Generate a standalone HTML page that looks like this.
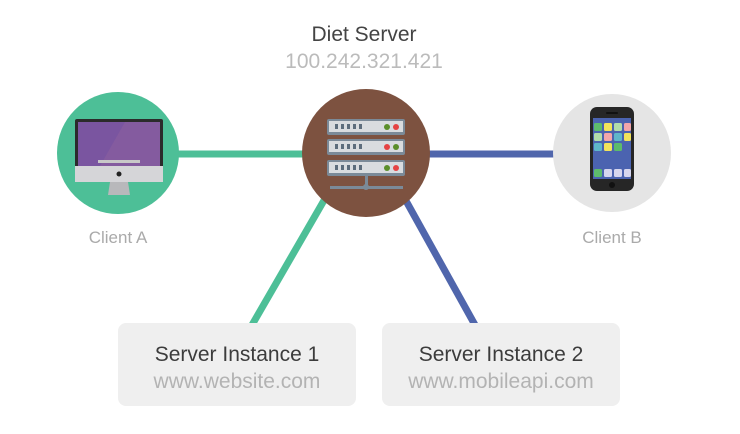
<!DOCTYPE html>
<html><head><meta charset="utf-8"><style>
html,body{margin:0;padding:0;background:#fff;width:740px;height:434px;overflow:hidden}
svg{display:block;font-family:"Liberation Sans",sans-serif}
</style></head><body>
<svg width="740" height="434" viewBox="0 0 740 434">
<line x1="170" y1="154" x2="320" y2="154" stroke="#4dbf97" stroke-width="7"/>
<line x1="410" y1="154" x2="560" y2="154" stroke="#5066ac" stroke-width="7"/>
<line x1="330" y1="190" x2="252" y2="325" stroke="#4dbf97" stroke-width="7"/>
<line x1="400" y1="190" x2="475" y2="325" stroke="#5066ac" stroke-width="7"/>
<text x="364" y="41" font-size="21" fill="#444" text-anchor="middle">Diet Server</text>
<text x="364" y="68" font-size="21" fill="#bbb" text-anchor="middle">100.242.321.421</text>
<circle cx="118" cy="153" r="61" fill="#4dbf97"/>
<rect x="75" y="119" width="88" height="63" rx="2" fill="#2b2b2b"/>
<rect x="78" y="122" width="82" height="44" fill="#7a55a0"/>
<polygon points="125,122 160,122 160,166 100,166" fill="#8a5f9f" opacity="0.6"/>
<rect x="75" y="166" width="88" height="16" fill="#d5d5d8"/>
<circle cx="119" cy="174" r="2.5" fill="#222"/>
<polygon points="110,182 128,182 130,195 108,195" fill="#b8b8bb"/>
<rect x="98" y="160" width="42" height="3" fill="#c8c8c8"/>
<circle cx="366" cy="153" r="64" fill="#7d5240"/>
<g>
<rect x="327" y="119" width="78" height="16" rx="2" fill="#7b8a98"/>
<rect x="329" y="121" width="74" height="11" fill="#d9dcdf"/>
<rect x="327" y="139" width="78" height="16" rx="2" fill="#7b8a98"/>
<rect x="329" y="141" width="74" height="11" fill="#d9dcdf"/>
<rect x="327" y="160" width="78" height="16" rx="2" fill="#7b8a98"/>
<rect x="329" y="162" width="74" height="11" fill="#d9dcdf"/>
<g fill="#5d6d7c">
<rect x="335" y="124" width="3" height="5"/><rect x="341" y="124" width="3" height="5"/><rect x="347" y="124" width="3" height="5"/><rect x="353" y="124" width="3" height="5"/><rect x="359" y="124" width="3" height="5"/>
<rect x="335" y="144" width="3" height="5"/><rect x="341" y="144" width="3" height="5"/><rect x="347" y="144" width="3" height="5"/><rect x="353" y="144" width="3" height="5"/><rect x="359" y="144" width="3" height="5"/>
<rect x="335" y="165" width="3" height="5"/><rect x="341" y="165" width="3" height="5"/><rect x="347" y="165" width="3" height="5"/><rect x="353" y="165" width="3" height="5"/><rect x="359" y="165" width="3" height="5"/>
</g>
<circle cx="387" cy="127" r="3" fill="#5b8f2a"/><circle cx="396" cy="127" r="3" fill="#e54343"/>
<circle cx="387" cy="147" r="3" fill="#e54343"/><circle cx="396" cy="147" r="3" fill="#5b8f2a"/>
<circle cx="387" cy="168" r="3" fill="#5b8f2a"/><circle cx="396" cy="168" r="3" fill="#e54343"/>
<rect x="365" y="176" width="3" height="10" fill="#7b8a98"/>
<rect x="330" y="186" width="73" height="3" fill="#7b8a98"/>
<circle cx="366" cy="187" r="3" fill="#7b8a98"/>
</g>
<circle cx="612" cy="153" r="59" fill="#e5e5e5"/>
<rect x="590" y="107" width="44" height="84" rx="7" fill="#262626"/>
<rect x="593" y="118" width="38" height="61" fill="#4b63b0"/>
<g>
<rect x="594" y="123" width="8" height="8" rx="1.5" fill="#5dbb6b"/><rect x="604" y="123" width="8" height="8" rx="1.5" fill="#f3e35b"/><rect x="614" y="123" width="8" height="8" rx="1.5" fill="#b2dcaa"/><rect x="624" y="123" width="7" height="8" rx="1.5" fill="#f2a6aa"/>
<rect x="594" y="133" width="8" height="8" rx="1.5" fill="#b2dcaa"/><rect x="604" y="133" width="8" height="8" rx="1.5" fill="#f2a6aa"/><rect x="614" y="133" width="8" height="8" rx="1.5" fill="#5fb6c9"/><rect x="624" y="133" width="7" height="8" rx="1.5" fill="#f3e35b"/>
<rect x="594" y="143" width="8" height="8" rx="1.5" fill="#5fb6c9"/><rect x="604" y="143" width="8" height="8" rx="1.5" fill="#f3e35b"/><rect x="614" y="143" width="8" height="8" rx="1.5" fill="#5dbb6b"/>
<rect x="594" y="169" width="8" height="8" rx="1.5" fill="#5dbb6b"/><rect x="604" y="169" width="8" height="8" rx="1.5" fill="#d6d6ee"/><rect x="614" y="169" width="8" height="8" rx="1.5" fill="#d6d6ee"/><rect x="624" y="169" width="7" height="8" rx="1.5" fill="#d6d6ee"/>
</g>
<circle cx="612" cy="185" r="3" fill="#111"/>
<rect x="606" y="112" width="12" height="2" rx="1" fill="#111"/>
<text x="118" y="243" font-size="17" fill="#aaa" text-anchor="middle">Client A</text>
<text x="612" y="243" font-size="17" fill="#aaa" text-anchor="middle">Client B</text>
<rect x="118" y="323" width="238" height="83" rx="8" fill="#efefef"/>
<rect x="382" y="323" width="238" height="83" rx="8" fill="#efefef"/>
<text x="237" y="361" font-size="21" fill="#3c3c3c" text-anchor="middle">Server Instance 1</text>
<text x="237" y="388" font-size="21" fill="#b3b3b3" text-anchor="middle">www.website.com</text>
<text x="501" y="361" font-size="21" fill="#3c3c3c" text-anchor="middle">Server Instance 2</text>
<text x="501" y="388" font-size="21" fill="#b3b3b3" text-anchor="middle">www.mobileapi.com</text>
</svg>
</body></html>
